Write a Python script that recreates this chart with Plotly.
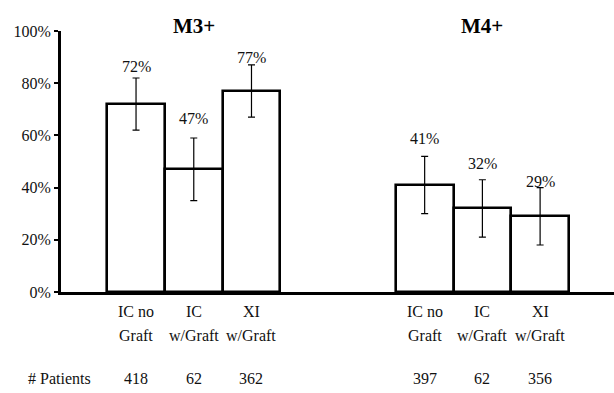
import plotly.graph_objects as go

# ---- data ----
groups = ["M3+", "M4+"]
cat_line1 = ["IC no", "IC", "XI"]
cat_line2 = ["Graft", "w/Graft", "w/Graft"]
m3_values = [72, 47, 77]
m3_errors = [10, 12, 10]
m3_patients = [418, 62, 362]
m4_values = [41, 32, 29]
m4_errors = [11, 11, 11]
m4_patients = [397, 62, 356]
y_ticks = [0, 20, 40, 60, 80, 100]
y_tick_labels = ["0%", "20%", "40%", "60%", "80%", "100%"]

# ---- style ----
FONT = "Liberation Serif, Times New Roman, serif"
FS = 16
label_lift = [11, 20, 7, 18, 16, 6]  # px above error-bar top for value labels
group_offsets = [0, 5]

values = m3_values + m4_values
errors = m3_errors + m4_errors
patients = m3_patients + m4_patients
xs = [off + i for off in group_offsets for i in range(3)]
line1 = cat_line1 * 2
line2 = cat_line2 * 2

fig = go.Figure()
fig.add_trace(go.Bar(
    x=xs, y=values, width=1,
    marker=dict(color="white", line=dict(color="black", width=2.6)),
    error_y=dict(type="data", array=errors, visible=True, color="black",
                 thickness=1.2, width=3.5),
    showlegend=False, hoverinfo="skip",
))

txt = dict(family=FONT, size=FS, color="#111")
ann = []
for i, x in enumerate(xs):
    ann.append(dict(x=x, y=values[i] + errors[i], xref="x", yref="y",
                    text=f"{values[i]}%", showarrow=False, yanchor="middle",
                    yshift=label_lift[i], font=txt))
    ann.append(dict(x=x, y=0, xref="x", yref="paper", text=line1[i], showarrow=False,
                    yanchor="middle", yshift=-19, font=txt))
    ann.append(dict(x=x, y=0, xref="x", yref="paper", text=line2[i], showarrow=False,
                    yanchor="middle", yshift=-43, font=txt))
    ann.append(dict(x=x, y=0, xref="x", yref="paper", text=str(patients[i]), showarrow=False,
                    yanchor="middle", yshift=-86, font=txt))
for g, off in zip(groups, group_offsets):
    ann.append(dict(x=off + 1, y=1, xref="x", yref="paper", text=f"<b>{g}</b>", showarrow=False,
                    yanchor="middle", yshift=5, font=dict(family=FONT, size=21, color="#000")))
ann.append(dict(x=0, y=0, xref="paper", yref="paper", text="# Patients", showarrow=False,
                xanchor="center", yanchor="middle", xshift=-2, yshift=-86, font=txt))

fig.update_layout(
    width=614, height=393,
    margin=dict(l=61, r=0, t=31, b=101),
    paper_bgcolor="white", plot_bgcolor="white",
    bargap=0,
    annotations=ann,
    xaxis=dict(range=[-1.3, 8.28], showticklabels=False, ticks="", showgrid=False,
               zeroline=False, showline=True, linecolor="black", linewidth=3),
    yaxis=dict(range=[0, 100], tickvals=y_ticks, ticktext=y_tick_labels, ticks="outside",
               ticklen=4, tickwidth=2, tickcolor="black", showgrid=False, zeroline=False,
               showline=True, linecolor="black", linewidth=3,
               tickfont=txt),
)

# remove the default page margin so the figure fills the window exactly
fig.write_html("out.html",
               config={"displayModeBar": False},
               post_script="document.body.style.margin='0';document.body.style.overflow='hidden';")
